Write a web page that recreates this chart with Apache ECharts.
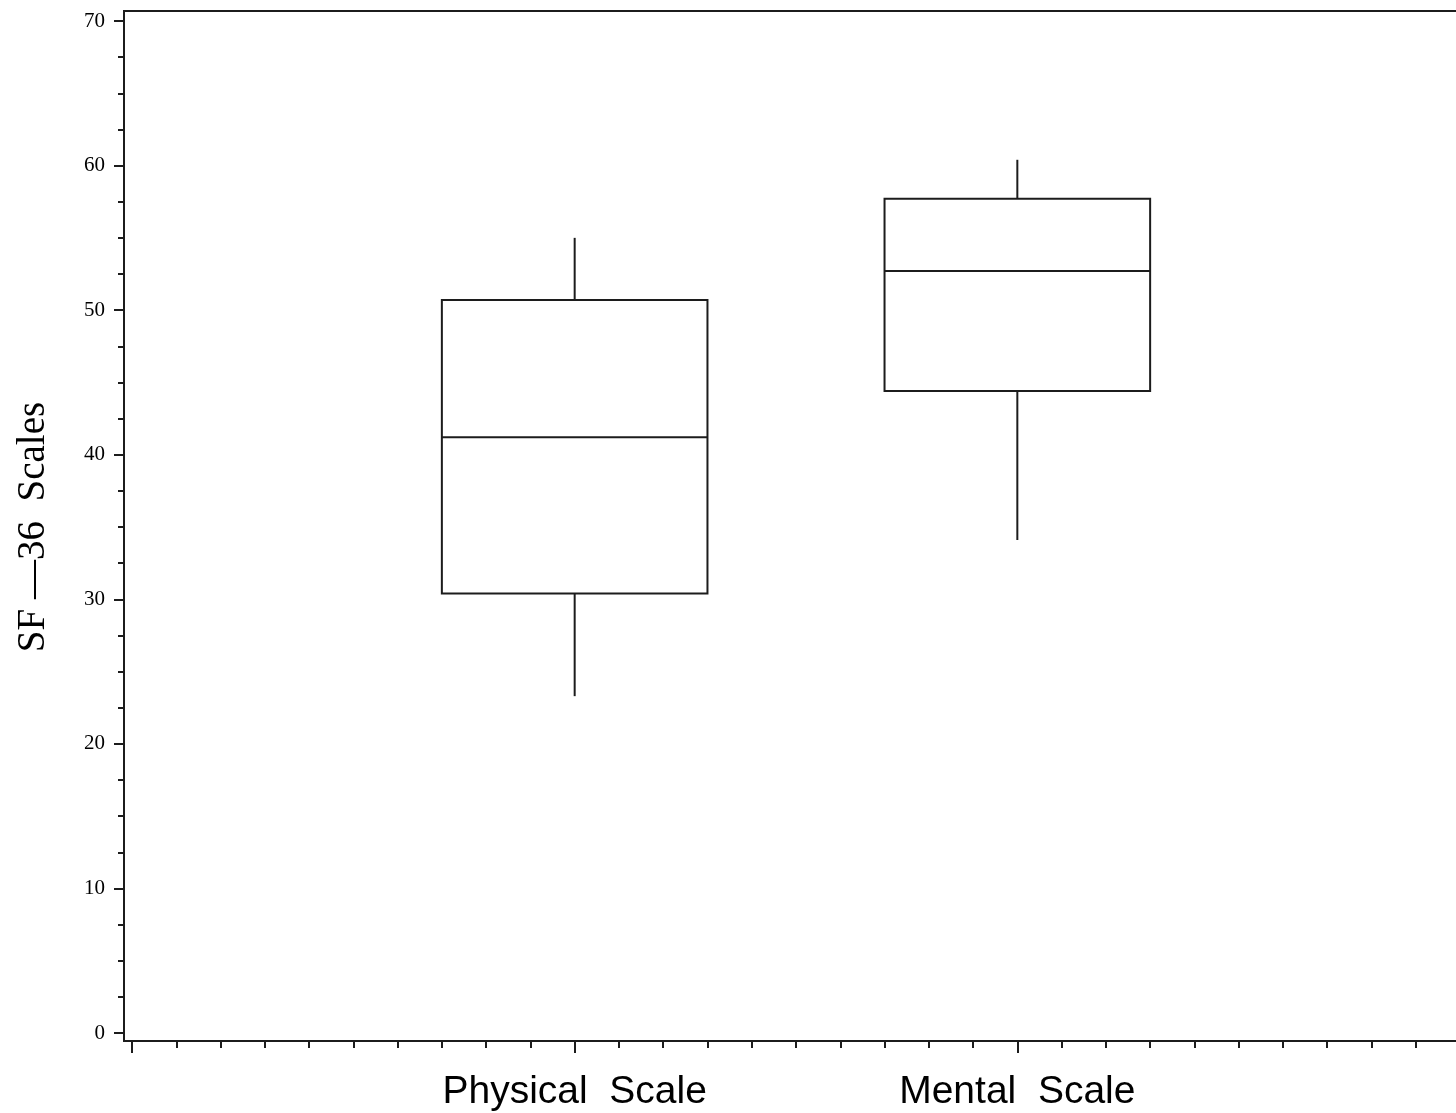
<!DOCTYPE html>
<html>
<head>
<meta charset="utf-8">
<title>SF-36 Scales</title>
<script src="https://cdn.jsdelivr.net/npm/echarts@6/dist/echarts.min.js"></script>
<style>
  html, body { margin: 0; padding: 0; background: #ffffff; overflow: hidden; }
  /* the plot frame runs on past the right edge of the window */
  #chart { width: 1480px; height: 1113px; }
</style>
</head>
<body>
<div id="chart"></div>
<script>
// Box-plot summary for the two SF-36 component scales
const categories  = ['Physical  Scale', 'Mental  Scale'];
const lowWhisker  = [23.3, 34.1];
const lowerQuart  = [30.4, 44.4];
const medians     = [41.2, 52.7];
const upperQuart  = [50.7, 57.7];
const highWhisker = [55.0, 60.4];
const yTickStep   = 10;

const INK = '#1c1c1c';
const BOX_HALF = 0.3; // half box width in x-axis units
const X_RANGE = [0, 3];
const Y_RANGE = [0, 70];

// one row per group: [x position, low, q1, median, q3, high]
const rows = categories.map((_, i) => [
  i + 1, lowWhisker[i], lowerQuart[i], medians[i], upperQuart[i], highWhisker[i]
]);

function renderBox(params, api) {
  const x = api.value(0);
  const lo = api.value(1), q1 = api.value(2), md = api.value(3), q3 = api.value(4), hi = api.value(5);
  const tl = api.coord([x - BOX_HALF, q3]);
  const br = api.coord([x + BOX_HALF, q1]);
  const mL = api.coord([x - BOX_HALF, md]);
  const mR = api.coord([x + BOX_HALF, md]);
  const top = api.coord([x, hi]);
  const boxTop = api.coord([x, q3]);
  const boxBot = api.coord([x, q1]);
  const bot = api.coord([x, lo]);
  const line = { stroke: INK, lineWidth: 2, fill: null };
  return {
    type: 'group',
    children: [
      { type: 'rect', shape: { x: tl[0], y: tl[1], width: br[0] - tl[0], height: br[1] - tl[1] }, style: line },
      { type: 'line', shape: { x1: mL[0], y1: mL[1], x2: mR[0], y2: mR[1] }, style: line },
      { type: 'line', shape: { x1: top[0], y1: top[1], x2: boxTop[0], y2: boxTop[1] }, style: line },
      { type: 'line', shape: { x1: boxBot[0], y1: boxBot[1], x2: bot[0], y2: bot[1] }, style: line }
    ]
  };
}

const tickStyle = { color: INK, width: 2 };
const hiddenX = (grid) => ({ gridIndex: grid, type: 'value', show: false, min: X_RANGE[0], max: X_RANGE[1] });
const hiddenY = (grid) => ({ gridIndex: grid, type: 'value', show: false, min: Y_RANGE[0], max: Y_RANGE[1] });

const chart = echarts.init(document.getElementById('chart'), null, { renderer: 'canvas' });

chart.setOption({
  animation: false,
  backgroundColor: '#ffffff',
  grid: [
    // 0: outer frame
    { left: 124, top: 11, right: 0, bottom: 72, show: true, borderColor: INK, borderWidth: 2, backgroundColor: 'transparent' },
    // 1: data area
    { left: 132, top: 21, right: 20, bottom: 80 },
    // 2: carries the vertical axis on the frame's left edge
    { left: 124, top: 21, right: 20, bottom: 80 },
    // 3: carries the horizontal axis on the frame's bottom edge
    { left: 132, top: 21, right: 20, bottom: 72 }
  ],
  xAxis: [
    hiddenX(0),
    hiddenX(1),
    hiddenX(2),
    {
      gridIndex: 3,
      type: 'value',
      min: X_RANGE[0],
      max: X_RANGE[1],
      interval: 1,
      axisLine: { show: false },
      axisTick: { show: true, inside: false, length: 12, lineStyle: tickStyle },
      minorTick: { show: true, splitNumber: 10, length: 7, lineStyle: tickStyle },
      splitLine: { show: false },
      minorSplitLine: { show: false },
      axisLabel: {
        margin: 32,
        color: '#000',
        fontFamily: '"Liberation Sans", Arial, sans-serif',
        fontSize: 39,
        formatter: v => (Number.isInteger(v) && v >= 1 && v <= categories.length) ? categories[v - 1] : ''
      }
    }
  ],
  yAxis: [
    hiddenY(0),
    hiddenY(1),
    {
      gridIndex: 2,
      type: 'value',
      min: Y_RANGE[0],
      max: Y_RANGE[1],
      interval: yTickStep,
      name: 'SF \u201436  Scales',
      nameLocation: 'middle',
      nameGap: 71,
      nameTextStyle: {
        color: '#000',
        fontFamily: '"Liberation Serif", "DejaVu Serif", serif',
        fontSize: 39
      },
      axisLine: { show: false },
      axisTick: { show: true, inside: false, length: 10, lineStyle: tickStyle },
      minorTick: { show: true, splitNumber: 4, length: 6, lineStyle: tickStyle },
      splitLine: { show: false },
      minorSplitLine: { show: false },
      axisLabel: {
        margin: 19,
        color: '#000',
        fontFamily: '"Liberation Serif", "DejaVu Serif", serif',
        fontSize: 21
      }
    },
    hiddenY(3)
  ],
  series: [
    {
      type: 'custom',
      xAxisIndex: 1,
      yAxisIndex: 1,
      renderItem: renderBox,
      encode: { x: 0, y: [1, 2, 3, 4, 5] },
      data: rows,
      silent: true
    }
  ]
});
</script>
</body>
</html>
